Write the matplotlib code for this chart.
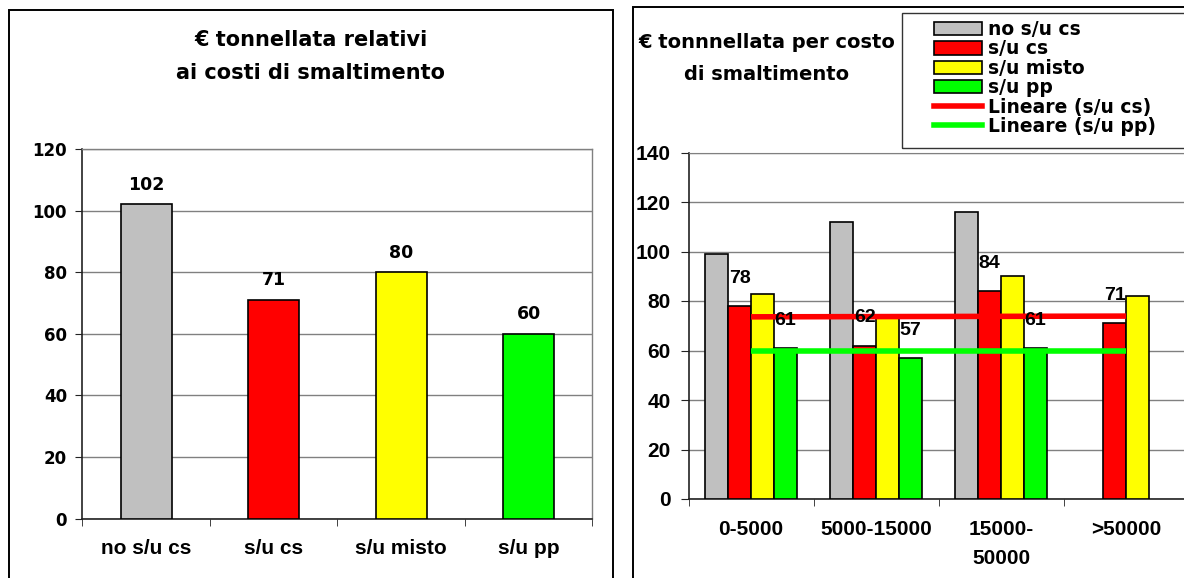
import numpy as np
import matplotlib
matplotlib.use("Agg")
import matplotlib.pyplot as plt
from matplotlib.patches import Rectangle, Patch
from matplotlib.lines import Line2D

# ---------------- data ----------------
left_categories = ["no s/u cs", "s/u cs", "s/u misto", "s/u pp"]
left_values = [102, 71, 80, 60]
left_colors = ["#C0C0C0", "#FF0000", "#FFFF00", "#00FF00"]
left_title = ["€ tonnellata relativi", "ai costi di smaltimento"]
left_yticks = [0, 20, 40, 60, 80, 100, 120]

right_categories = ["0-5000", "5000-15000", "15000-\n50000", ">50000"]
series_names = ["no s/u cs", "s/u cs", "s/u misto", "s/u pp"]
no_su_cs = [99, 112, 116, np.nan]
su_cs = [78, 62, 84, 71]
su_misto = [83, 74, 90, 82]
su_pp = [61, 57, 61, np.nan]
series_colors = ["#C0C0C0", "#FF0000", "#FFFF00", "#00FF00"]
labelled_series = [1, 3]  # s/u cs and s/u pp show value labels
trend_names = ["Lineare (s/u cs)", "Lineare (s/u pp)"]
right_title = ["€ tonnnellata per costo", "di smaltimento"]
right_yticks = [0, 20, 40, 60, 80, 100, 120, 140]

W, H = 1184, 578
fig = plt.figure(figsize=(W / 100, H / 100), dpi=100)
fig.patch.set_facecolor("white")

def fx(px):
    return px / W

def fy(py):
    return 1 - py / H

# panel borders
fig.add_artist(Rectangle((fx(9), fy(600)), fx(613) - fx(9), fy(10) - fy(600),
                         transform=fig.transFigure, fill=False, edgecolor="#000000", lw=1.4))
fig.add_artist(Rectangle((fx(633), fy(600)), fx(1200) - fx(633), fy(7) - fy(600),
                         transform=fig.transFigure, fill=False, edgecolor="#000000", lw=1.4))

GRID = "#808080"

# ---------------- left chart ----------------
ax1 = fig.add_axes([fx(82.3), fy(518.5), fx(592.4) - fx(82.3), fy(149) - fy(518.5)])
x1 = np.arange(len(left_categories))
ax1.bar(x1, left_values, width=0.4, color=left_colors, edgecolor="black",
        linewidth=1.2, zorder=3)
ax1.set_xlim(-0.5, len(left_categories) - 0.5)
ax1.set_ylim(0, 120)
ax1.set_yticks(left_yticks)
ax1.yaxis.grid(True, color=GRID, linewidth=1.0, zorder=0)
ax1.set_axisbelow(True)
for s in ["top", "right"]:
    ax1.spines[s].set_color(GRID)
    ax1.spines[s].set_linewidth(1.0)
for s in ["left", "bottom"]:
    ax1.spines[s].set_color("#222222")
    ax1.spines[s].set_linewidth(1.2)
ax1.set_xticks(x1)
ax1.set_xticklabels(left_categories, fontfamily="Liberation Sans", fontweight="bold", fontsize=15)
ax1.set_xticks(np.arange(-0.5, len(left_categories)), minor=True)
ax1.tick_params(axis="x", which="major", length=0, pad=15)
ax1.tick_params(axis="x", which="minor", length=5, direction="out", color="#222222")
ax1.tick_params(axis="y", length=5, direction="out", color="#222222", pad=6)
for t in ax1.get_yticklabels():
    t.set_fontfamily("DejaVu Sans")
    t.set_fontweight("bold")
    t.set_fontsize(12)
for xi, v in zip(x1, left_values):
    ax1.annotate(f"{v}", (xi, v), xytext=(0, 14), textcoords="offset points",
                 ha="center", va="center", fontsize=12.5, fontweight="bold",
                 fontfamily="DejaVu Sans")
fig.text(fx(311), fy(40), left_title[0], ha="center", va="center",
         fontsize=15, fontweight="bold", fontfamily="DejaVu Sans")
fig.text(fx(311), fy(73), left_title[1], ha="center", va="center",
         fontsize=15, fontweight="bold", fontfamily="DejaVu Sans")

# ---------------- right chart ----------------
ax2 = fig.add_axes([fx(688.6), fy(499), fx(1188.6) - fx(688.6), fy(152.5) - fy(499)])
series = [no_su_cs, su_cs, su_misto, su_pp]
x2 = np.arange(len(right_categories))
bw = 0.184
offsets = (np.arange(4) - 1.5) * bw
for i, (vals, col) in enumerate(zip(series, series_colors)):
    ax2.bar(x2 + offsets[i], vals, width=bw, color=col, edgecolor="black",
            linewidth=1.2, zorder=3)

# linear trend lines
trend_colors = ["#FF0000", "#00FF00"]
for vals, col in zip([su_cs, su_pp], trend_colors):
    arr = np.array(vals, dtype=float)
    m = ~np.isnan(arr)
    k, b = np.polyfit(x2[m], arr[m], 1)
    xs = np.array([x2[0], x2[-1]], dtype=float)
    ax2.plot(xs, k * xs + b, color=col, linewidth=4, zorder=4, solid_capstyle="butt")

for i in labelled_series:
    for xi, v in zip(x2, series[i]):
        if np.isnan(v):
            continue
        ax2.annotate(f"{v:g}", (xi + offsets[i], v), xytext=(0, 20), textcoords="offset points",
                     ha="center", va="center", fontsize=14, fontweight="bold",
                     fontfamily="Liberation Sans", zorder=5)

ax2.set_xlim(-0.5, len(right_categories) - 0.5)
ax2.set_ylim(0, 140)
ax2.set_yticks(right_yticks)
ax2.yaxis.grid(True, color=GRID, linewidth=1.0, zorder=0)
ax2.set_axisbelow(True)
for s in ["top", "right"]:
    ax2.spines[s].set_color(GRID)
for s in ["left", "bottom"]:
    ax2.spines[s].set_color("#222222")
    ax2.spines[s].set_linewidth(1.2)
ax2.set_xticks(x2)
ax2.set_xticklabels(right_categories, fontfamily="Liberation Sans", fontweight="bold",
                    fontsize=15, linespacing=1.65)
ax2.set_xticks(np.arange(-0.5, len(right_categories)), minor=True)
ax2.tick_params(axis="x", which="major", length=0, pad=15)
ax2.tick_params(axis="x", which="minor", length=5, direction="out", color="#222222")
ax2.tick_params(axis="y", length=6, direction="out", color="#222222", pad=7)
for t in ax2.get_yticklabels():
    t.set_fontfamily("Liberation Sans")
    t.set_fontweight("bold")
    t.set_fontsize(15)

fig.text(fx(767), fy(43), right_title[0], ha="center", va="center",
         fontsize=14, fontweight="bold", fontfamily="DejaVu Sans")
fig.text(fx(767), fy(75), right_title[1], ha="center", va="center",
         fontsize=14, fontweight="bold", fontfamily="DejaVu Sans")

# legend
handles = [Patch(facecolor=c, edgecolor="black", linewidth=1.2) for c in series_colors]
handles += [Line2D([0], [0], color=c, linewidth=4) for c in trend_colors]
labels = series_names + trend_names
leg = fig.legend(handles, labels, loc="upper left",
                 bbox_to_anchor=(fx(934), fy(20)), bbox_transform=fig.transFigure,
                 frameon=False, borderpad=0, borderaxespad=0, labelspacing=0.02,
                 handlelength=2.55, handleheight=0.72, handletextpad=0.35,
                 prop={"family": "DejaVu Sans", "weight": "bold", "size": 13.5})
fig.add_artist(Rectangle((fx(902), fy(148)), fx(1200) - fx(902), fy(13) - fy(148),
                         transform=fig.transFigure, fill=False, edgecolor="#333333", lw=1.0))

fig.savefig("out.png", dpi=100, facecolor="white")
